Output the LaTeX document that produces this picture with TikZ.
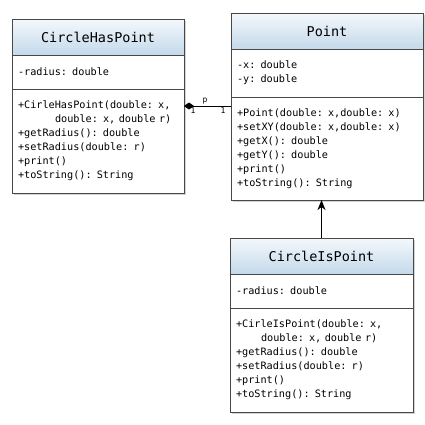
\documentclass[tikz,border=0pt]{standalone}
\usepackage{fontspec}
\setmonofont{DejaVu Sans Mono}
\usetikzlibrary{positioning, arrows.meta, shadows}
\definecolor{titletop}{RGB}{244,248,252}
\definecolor{titlebottom}{RGB}{196,217,234}
\definecolor{boxline}{RGB}{72,72,72}
\tikzset{
classbox/.style={draw=boxline, line width=0.8pt, fill=white, outer sep=0pt,
  drop shadow={shadow xshift=1.5pt, shadow yshift=-1.5pt, opacity=0.35}}, % look shared by every compartment
classtitle/.style={classbox, top color=titletop, bottom color=titlebottom, minimum height=36pt,
  font=\ttfamily\fontsize{13.5}{16}\selectfont}, % header holding the class name
classbody/.style={classbox, align=left, inner xsep=6pt,
  font=\ttfamily\fontsize{10.2}{14}\selectfont}, % attributes and operations
compose/.style={line width=0.8pt, {Diamond[length=10pt,width=7pt]}-}, % filled diamond at the owner
inherit/.style={line width=1.5pt, -{Stealth[length=10pt,width=8pt,inset=3pt]}}, % child points to parent
mult/.style={font=\ttfamily\fontsize{8}{9}\selectfont, inner sep=1.5pt}, % role and multiplicity
}

\begin{document}
\begin{tikzpicture}[x=1pt, y=-1pt]
\useasboundingbox (0,0) rectangle (425,424);

% CircleHasPoint
\node[classtitle, minimum width=172pt, anchor=north west] (chpTitle) at (12,19) {CircleHasPoint};
\node[classbody, text width=160pt, minimum height=34pt, below=0pt of chpTitle] (chpAttr) {-radius: double};
\node[classbody, text width=160pt, minimum height=104pt, below=0pt of chpAttr] (chpOps)
  {+CirleHasPoint(double: x,\\\hspace*{37pt}double: x, double r)\\+getRadius(): double\\+setRadius(double: r)\\+print()\\+toString(): String};

% Point
\node[classtitle, minimum width=192pt, anchor=north west] (pointTitle) at (231,13) {Point};
\node[classbody, text width=180pt, minimum height=48pt, below=0pt of pointTitle] (pointAttr) {-x: double\\-y: double};
\node[classbody, text width=180pt, minimum height=103pt, below=0pt of pointAttr] (pointOps)
  {+Point(double: x,double: x)\\+setXY(double: x,double: x)\\+getX(): double\\+getY(): double\\+print()\\+toString(): String};

% CircleIsPoint
\node[classtitle, minimum width=183pt, anchor=north west] (cipTitle) at (230,238) {CircleIsPoint};
\node[classbody, text width=171pt, minimum height=34pt, below=0pt of cipTitle] (cipAttr) {-radius: double};
\node[classbody, text width=171pt, minimum height=104pt, below=0pt of cipAttr] (cipOps)
  {+CirleIsPoint(double: x,\\\hspace*{25pt}double: x, double r)\\+getRadius(): double\\+setRadius(double: r)\\+print()\\+toString(): String};

% relations
\draw[compose] ([yshift=-17pt]chpOps.north east) -- ([yshift=-17pt]chpOps.north east -| pointOps.west)
  node[mult, above, pos=0.45] {p}
  node[mult, below, pos=0.19] {1}
  node[mult, below, pos=0.83] {1};
\draw[inherit] (cipTitle.north) -- (cipTitle.north |- pointOps.south);
\end{tikzpicture}
\end{document}
